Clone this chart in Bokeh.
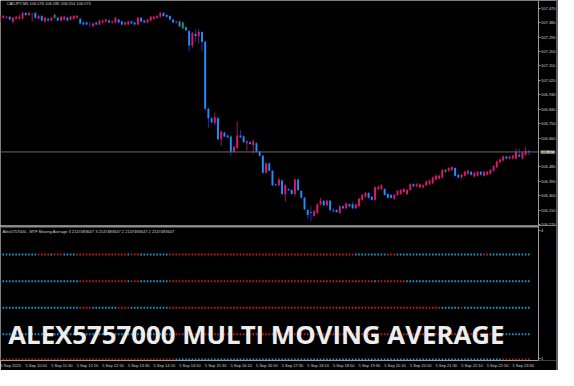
from bokeh.plotting import figure
from bokeh.models import (Range1d, FixedTicker, Label, ColumnDataSource,
                          PrintfTickFormatter, Spacer)
from bokeh.layouts import column, row
from bokeh.embed import file_html
from bokeh.resources import INLINE

# ---------------- data ----------------
header_text = "CADJPY,M5  106.576 106.585 106.554 106.573"
sub_title = ("Alex5757000 - MTF Moving Average 3 2147483647 3 2147483647 "
             "2 2147483647 2 2147483647")
big_title = "ALEX5757000 MULTI MOVING AVERAGE"

opens = [
    107.387, 107.410, 107.410, 107.416, 107.387, 107.404, 107.404, 107.404, 107.440, 107.428,
    107.434, 107.440, 107.404, 107.422, 107.387, 107.404, 107.393, 107.410, 107.410, 107.393,
    107.399, 107.410, 107.399, 107.404, 107.410, 107.404, 107.381, 107.381, 107.370, 107.357,
    107.381, 107.369, 107.381, 107.387, 107.393, 107.381, 107.381, 107.399, 107.387, 107.369,
    107.369, 107.387, 107.381, 107.369, 107.410, 107.393, 107.381, 107.393, 107.404, 107.410,
    107.416, 107.440, 107.428, 107.422, 107.399, 107.381, 107.387, 107.381, 107.351, 107.327,
    107.237, 107.309, 107.297, 107.321, 107.261, 106.843, 106.783, 106.753, 106.783, 106.652,
    106.694, 106.676, 106.670, 106.574, 106.598, 106.676, 106.670, 106.628, 106.634, 106.616,
    106.628, 106.574, 106.550, 106.443, 106.502, 106.455, 106.371, 106.365, 106.395, 106.311,
    106.341, 106.335, 106.311, 106.401, 106.329, 106.287, 106.210, 106.198, 106.174, 106.192,
    106.246, 106.269, 106.240, 106.269, 106.210, 106.210, 106.192, 106.234, 106.222, 106.246,
    106.246, 106.222, 106.234, 106.275, 106.293, 106.317, 106.293, 106.275, 106.341, 106.341,
    106.341, 106.311, 106.305, 106.281, 106.305, 106.311, 106.323, 106.311, 106.335, 106.371,
    106.359, 106.353, 106.353, 106.365, 106.371, 106.377, 106.401, 106.407, 106.413, 106.449,
    106.455, 106.461, 106.473, 106.431, 106.413, 106.425, 106.437, 106.449, 106.419, 106.425,
    106.449, 106.425, 106.431, 106.437, 106.455, 106.478, 106.508, 106.520, 106.544, 106.532,
    106.532, 106.532, 106.556, 106.532, 106.556, 106.576,
]
highs = [
    107.416, 107.428, 107.422, 107.422, 107.416, 107.422, 107.428, 107.446, 107.446, 107.446,
    107.440, 107.446, 107.428, 107.428, 107.416, 107.410, 107.416, 107.434, 107.416, 107.422,
    107.422, 107.416, 107.422, 107.428, 107.428, 107.410, 107.387, 107.387, 107.387, 107.381,
    107.387, 107.399, 107.399, 107.404, 107.399, 107.393, 107.416, 107.404, 107.393, 107.387,
    107.393, 107.393, 107.387, 107.416, 107.416, 107.399, 107.404, 107.422, 107.422, 107.428,
    107.446, 107.446, 107.434, 107.428, 107.404, 107.393, 107.393, 107.387, 107.357, 107.333,
    107.321, 107.339, 107.339, 107.327, 107.267, 106.849, 106.789, 106.819, 106.789, 106.706,
    106.700, 106.682, 106.676, 106.610, 106.765, 106.711, 106.676, 106.646, 106.640, 106.652,
    106.634, 106.580, 106.556, 106.508, 106.508, 106.461, 106.377, 106.413, 106.401, 106.371,
    106.347, 106.341, 106.407, 106.407, 106.335, 106.293, 106.216, 106.234, 106.210, 106.251,
    106.287, 106.275, 106.275, 106.275, 106.222, 106.216, 106.240, 106.240, 106.257, 106.251,
    106.263, 106.251, 106.287, 106.311, 106.323, 106.323, 106.299, 106.359, 106.365, 106.371,
    106.347, 106.317, 106.311, 106.311, 106.335, 106.341, 106.347, 106.341, 106.377, 106.377,
    106.377, 106.377, 106.371, 106.395, 106.401, 106.419, 106.431, 106.431, 106.467, 106.467,
    106.478, 106.485, 106.478, 106.437, 106.437, 106.455, 106.461, 106.455, 106.449, 106.455,
    106.455, 106.455, 106.455, 106.467, 106.490, 106.520, 106.532, 106.550, 106.550, 106.550,
    106.556, 106.592, 106.592, 106.574, 106.604, 106.585,
]
lows = [
    107.381, 107.404, 107.404, 107.393, 107.375, 107.399, 107.399, 107.399, 107.422, 107.422,
    107.387, 107.404, 107.399, 107.387, 107.381, 107.387, 107.387, 107.404, 107.387, 107.387,
    107.393, 107.387, 107.393, 107.399, 107.404, 107.369, 107.363, 107.363, 107.351, 107.351,
    107.363, 107.363, 107.375, 107.381, 107.375, 107.375, 107.375, 107.375, 107.363, 107.363,
    107.363, 107.369, 107.363, 107.363, 107.381, 107.375, 107.375, 107.387, 107.399, 107.404,
    107.410, 107.416, 107.410, 107.393, 107.375, 107.375, 107.351, 107.339, 107.327, 107.201,
    107.219, 107.261, 107.249, 107.201, 106.831, 106.723, 106.747, 106.741, 106.646, 106.610,
    106.664, 106.658, 106.550, 106.568, 106.592, 106.658, 106.628, 106.580, 106.616, 106.562,
    106.568, 106.544, 106.437, 106.437, 106.449, 106.359, 106.359, 106.359, 106.305, 106.263,
    106.329, 106.305, 106.293, 106.329, 106.281, 106.210, 106.156, 106.144, 106.168, 106.186,
    106.240, 106.234, 106.234, 106.203, 106.192, 106.192, 106.186, 106.216, 106.216, 106.228,
    106.216, 106.216, 106.228, 106.269, 106.287, 106.281, 106.269, 106.269, 106.335, 106.335,
    106.299, 106.281, 106.281, 106.275, 106.299, 106.305, 106.317, 106.305, 106.329, 106.353,
    106.353, 106.347, 106.347, 106.359, 106.365, 106.371, 106.395, 106.401, 106.407, 106.443,
    106.449, 106.455, 106.419, 106.407, 106.407, 106.419, 106.431, 106.425, 106.413, 106.419,
    106.425, 106.419, 106.425, 106.431, 106.449, 106.473, 106.502, 106.514, 106.526, 106.526,
    106.526, 106.526, 106.538, 106.526, 106.550, 106.554,
]
closes = [
    107.410, 107.422, 107.416, 107.399, 107.410, 107.416, 107.416, 107.440, 107.428, 107.440,
    107.436, 107.410, 107.422, 107.393, 107.410, 107.393, 107.410, 107.428, 107.393, 107.416,
    107.416, 107.393, 107.416, 107.422, 107.422, 107.375, 107.369, 107.369, 107.368, 107.375,
    107.369, 107.393, 107.393, 107.399, 107.381, 107.387, 107.410, 107.381, 107.369, 107.381,
    107.387, 107.375, 107.369, 107.410, 107.387, 107.381, 107.399, 107.416, 107.416, 107.422,
    107.440, 107.422, 107.416, 107.399, 107.381, 107.387, 107.357, 107.345, 107.333, 107.237,
    107.315, 107.297, 107.321, 107.261, 106.843, 106.783, 106.759, 106.789, 106.652, 106.700,
    106.670, 106.664, 106.574, 106.604, 106.676, 106.664, 106.634, 106.640, 106.622, 106.640,
    106.574, 106.550, 106.443, 106.502, 106.455, 106.365, 106.365, 106.401, 106.311, 106.365,
    106.335, 106.311, 106.401, 106.335, 106.287, 106.216, 106.180, 106.194, 106.203, 106.246,
    106.269, 106.240, 106.269, 106.210, 106.206, 106.198, 106.234, 106.222, 106.251, 106.234,
    106.222, 106.246, 106.281, 106.305, 106.317, 106.287, 106.275, 106.353, 106.353, 106.365,
    106.305, 106.287, 106.287, 106.305, 106.329, 106.335, 106.341, 106.335, 106.371, 106.359,
    106.371, 106.371, 106.365, 106.389, 106.395, 106.413, 106.425, 106.425, 106.461, 106.461,
    106.473, 106.478, 106.425, 106.413, 106.431, 106.449, 106.455, 106.431, 106.443, 106.449,
    106.431, 106.449, 106.449, 106.461, 106.485, 106.514, 106.526, 106.544, 106.532, 106.544,
    106.550, 106.574, 106.544, 106.568, 106.580, 106.573,
]
green_bars = [17, 57, 139]
current_price = 106.573
price_ticks = [107.470, 107.380, 107.290, 107.200, 107.110, 107.020, 106.930, 106.840,
               106.750, 106.660, 106.480, 106.390, 106.300, 106.210, 106.120]
time_label_bars = [0, 8, 16, 24, 32, 40, 48, 56, 64, 72, 80, 88, 96, 104, 112, 120,
                   128, 136, 144, 152, 160]
time_labels = ["5 Sep 2025", "5 Sep 10:50", "5 Sep 11:30", "5 Sep 12:10", "5 Sep 12:50",
               "5 Sep 13:30", "5 Sep 14:10", "5 Sep 14:50", "5 Sep 15:30", "5 Sep 16:10",
               "5 Sep 16:50", "5 Sep 17:30", "5 Sep 18:10", "5 Sep 18:50", "5 Sep 19:30",
               "5 Sep 20:10", "5 Sep 20:50", "5 Sep 21:30", "5 Sep 22:10", "5 Sep 22:50",
               "5 Sep 23:30"]
sub_ticks = [1, 4]
# MTF moving-average state rows: (first bar, end bar, state)
row_levels = [3.43, 2.81, 2.19, 1.57, 0.98]
row_segments = [
    [(0, 12, "up"), (12, 16, "dn"), (16, 17, "up"), (17, 20, "dn"), (20, 24, "up"),
     (24, 40, "dn"), (40, 41, "up"), (41, 44, "dn"), (44, 53, "up"), (53, 111, "dn"),
     (111, 121, "up"), (121, 124, "dn"), (124, 151, "up"), (151, 153, "dn"), (153, 166, "up")],
    [(0, 25, "up"), (25, 40, "dn"), (40, 41, "up"), (41, 44, "dn"), (44, 53, "up"),
     (53, 117, "dn"), (117, 118, "up"), (118, 127, "dn"), (127, 166, "up")],
    [(0, 25, "up"), (25, 29, "dn"), (29, 37, "up"), (37, 41, "dn"), (41, 53, "up"),
     (53, 138, "dn"), (138, 144, "up"), (144, 145, "dn"), (145, 166, "up")],
    [(0, 55, "up"), (55, 156, "dn"), (156, 166, "up")],
    [(0, 55, "dn"), (55, 157, "up"), (157, 166, "dn")],
]

# ---------------- styles ----------------
BG = "#000000"
BULL = "#E3156B"
BEAR = "#1E8FFF"
GREEN = "#22A03A"
BULL_WICK = "#8A1E62"
BEAR_WICK = "#2430B0"
GREEN_WICK = "#1E7A2E"
AX = "#9A9A9A"
TXT = "#D2D2D2"
DOT = {"up": "#1A96D0", "dn": "#C41A1A"}
FONT = "Liberation Sans"
W = 556
X_START = 0.12
X_END = 167.9            # bar position of the price-scale line
X_VIEW_END = 173.64      # frame also covers the price-scale strip

n = len(closes)
ks = list(range(n))
body_c, wick_c, tops, bots = [], [], [], []
for i in ks:
    if i in green_bars:
        body_c.append(GREEN); wick_c.append(GREEN_WICK)
    elif closes[i] >= opens[i]:
        body_c.append(BULL); wick_c.append(BULL_WICK)
    else:
        body_c.append(BEAR); wick_c.append(BEAR_WICK)
    tops.append(max(opens[i], closes[i]))
    bots.append(min(opens[i], closes[i]))

src = ColumnDataSource(dict(k=ks, high=highs, low=lows, top=tops, bottom=bots,
                            body=body_c, wick=wick_c))

x_range = Range1d(X_START, X_VIEW_END)


def style_axis(ax):
    ax.axis_line_color = AX
    ax.major_tick_line_color = AX
    ax.major_tick_out = 2
    ax.major_tick_in = 0
    ax.minor_tick_line_color = None
    ax.major_label_text_font = FONT
    ax.major_label_text_font_size = "4px"
    ax.major_label_text_color = TXT
    ax.major_label_standoff = 1


# ---------------- main price panel ----------------
p = figure(width=W, height=225, x_range=x_range, y_range=Range1d(106.114, 107.518),
           x_axis_location=None, y_axis_location="right", output_backend="svg",
           toolbar_location=None, min_border_left=0, min_border_top=0,
           min_border_bottom=0, min_border_right=0)
p.background_fill_color = BG
p.border_fill_color = BG
p.outline_line_color = None
p.grid.visible = False

p.segment(x0="k", y0="low", x1="k", y1="high", line_color="wick", line_width=1, source=src)
p.vbar(x="k", width=0.6, top="top", bottom="bottom", fill_color="body",
       line_color=None, source=src)

# current-price line across the chart area
p.segment(x0=[X_START], y0=[current_price], x1=[X_END], y1=[current_price],
          line_color="#6A6A6A", line_width=1)

ya = p.yaxis[0]
ya.fixed_location = X_END
ya.ticker = FixedTicker(ticks=price_ticks)
ya.formatter = PrintfTickFormatter(format="%.3f")
style_axis(ya)

p.add_layout(Label(x=6, x_units="screen", y=107.500, text=header_text,
                   text_font=FONT, text_font_size="4px", text_color=TXT,
                   text_baseline="middle"))
p.add_layout(Label(x=X_END + 0.8, y=current_price,
                   text="%.3f" % current_price, text_font=FONT, text_font_size="4px",
                   text_color="#000000", text_baseline="middle", text_align="left",
                   background_fill_color="#DCDCDC"))

# ---------------- indicator sub-window ----------------
s = figure(width=W, height=145, x_range=x_range, y_range=Range1d(0.956, 4.110),
           y_axis_location="right", output_backend="svg", toolbar_location=None,
           min_border_left=0, min_border_top=0, min_border_bottom=0, min_border_right=0)
s.background_fill_color = BG
s.border_fill_color = BG
s.outline_line_color = None
s.grid.visible = False

dx, dy, dc = [], [], []
for level, segs in zip(row_levels, row_segments):
    for a, b, st in segs:
        for k in range(a, b):
            dx.append(k); dy.append(level); dc.append(DOT[st])
s.rect(x=dx, y=dy, width=0.5, height=2, height_units="screen", fill_color=dc,
       line_color=None)

# separator between the price window and the indicator window
s.segment(x0=[X_START], y0=[4.088], x1=[X_END], y1=[4.088], line_color="#8C8C8C",
          line_width=2)

sy = s.yaxis[0]
sy.fixed_location = X_END
sy.ticker = FixedTicker(ticks=sub_ticks)
style_axis(sy)

sx = s.xaxis[0]
offset = 3.25
sx.bounds = (X_START, X_END)
sx.ticker = FixedTicker(ticks=[b + offset for b in time_label_bars])
sx.major_label_overrides = {b + offset: t for b, t in zip(time_label_bars, time_labels)}
style_axis(sx)
sx.major_tick_line_color = None
sx.major_tick_out = 0
sx.major_label_standoff = 2

s.add_layout(Label(x=2, x_units="screen", y=3.98, text=sub_title, text_font=FONT,
                   text_font_size="4px", text_color=TXT, text_baseline="middle"))
s.add_layout(Label(x=7.8, x_units="screen", y=1.58, text=big_title,
                   text_font="Open Sans", text_font_style="bold", text_font_size="25.8px",
                   text_color="#EDEDED", text_baseline="alphabetic"))

strip = Spacer(width=2, height=370, styles={"background-color": "#56606A"})
layout = row(column(p, s, spacing=0), strip, spacing=0)

open("out.html", "w").write(file_html(layout, INLINE))
